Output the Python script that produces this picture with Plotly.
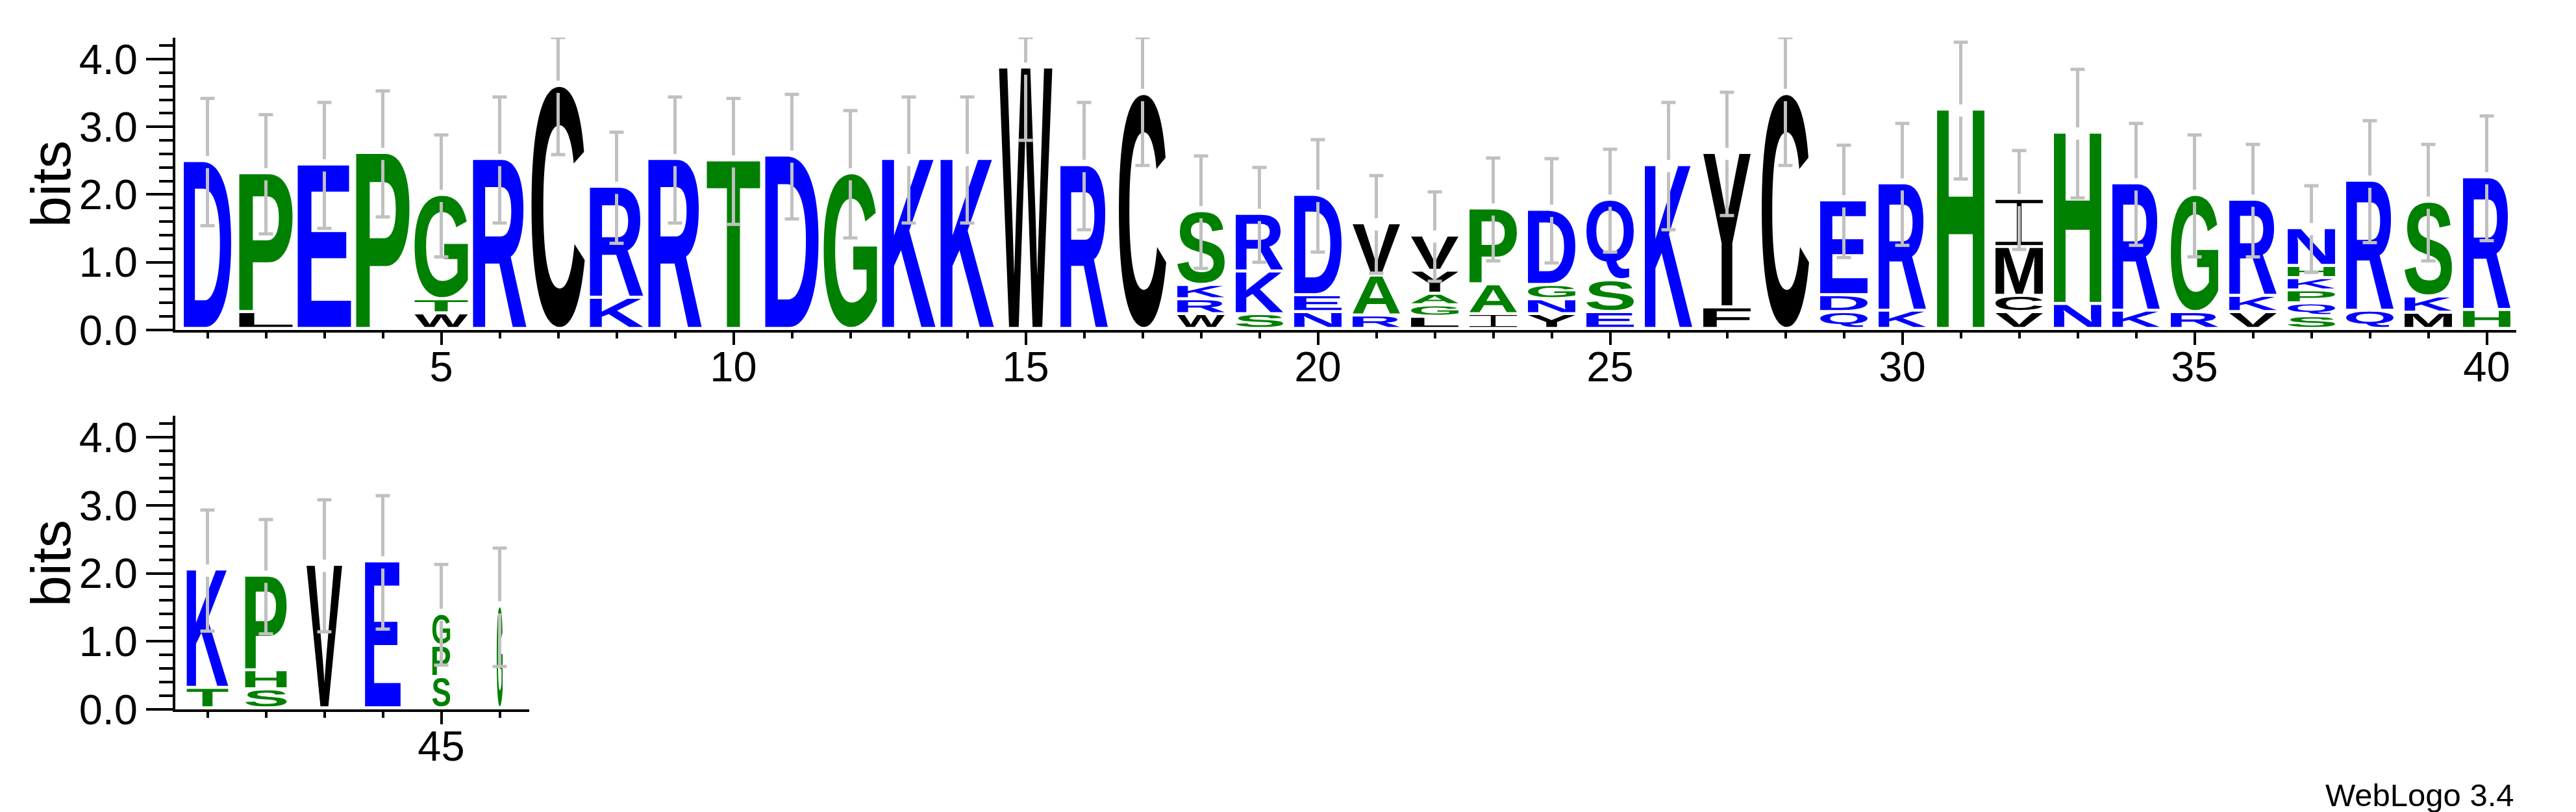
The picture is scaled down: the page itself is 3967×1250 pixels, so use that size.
import glob
import os
import struct
import plotly.graph_objects as go

positions = list(range(1, 47))
# letters of each stack, bottom -> top
stack_letters = [
    "D", "LP", "E", "P", "WTG", "R", "C", "KR", "R", "T",
    "D", "G", "K", "K", "W", "R", "C", "WRKS", "SKR", "NED",
    "RAV", "LGAYV", "IAP", "YNGD", "ESQ", "K", "FY", "C", "QDE", "KR",
    "H", "VCMI", "NH", "KR", "RG", "VKR", "SQPKHN", "QR", "MKS", "HR",
    "TK", "SHP", "V", "E", "SPG", "G",
]
# height in bits of each letter, bottom -> top
stack_heights = [
    [2.48], [0.25, 2.05], [2.43], [2.60], [0.23, 0.21, 1.54],
    [2.51], [3.59], [0.46, 1.64], [2.51], [2.49],
    [2.56], [2.30], [2.51], [2.51], [3.86],
    [2.42], [3.47], [0.22, 0.22, 0.21, 1.09], [0.22, 0.63, 0.85], [0.25, 0.25, 1.48],
    [0.20, 0.59, 0.77], [0.18, 0.17, 0.17, 0.34, 0.52], [0.22, 0.44, 1.12],
    [0.22, 0.22, 0.21, 1.11], [0.25, 0.47, 1.19],
    [2.42], [0.32, 2.28], [3.47], [0.25, 0.25, 1.40], [0.27, 1.88],
    [3.24], [0.25, 0.24, 0.72, 0.71], [0.37, 2.53], [0.27, 1.88], [0.25, 1.73],
    [0.25, 0.24, 1.42], [0.19, 0.19, 0.19, 0.18, 0.18, 0.56], [0.27, 1.92],
    [0.24, 0.24, 1.40], [0.28, 1.96],
    [0.30, 1.74], [0.28, 0.28, 1.39], [2.11], [2.16], [0.46, 0.46, 0.47], [1.50],
]
# error bar half-length (bits)
error_bits = [
    0.94, 0.88, 0.93, 0.93, 0.90, 0.93, 1.00, 0.82, 0.93, 0.93,
    0.92, 0.94, 0.93, 0.93, 1.06, 0.94, 1.04, 0.83, 0.70, 0.83,
    0.72, 0.66, 0.76, 0.77, 0.76, 0.94, 0.91, 1.04, 0.83, 0.90,
    1.01, 0.73, 0.95, 0.90, 0.90, 0.83, 0.64, 0.90, 0.86, 0.92,
    0.89, 0.84, 0.97, 0.98, 0.74, 0.87,
]
# number of aligned (non-gap) sequences per column, out of n_sequences
n_sequences = 9
sequences_present = [8] + [9] * 14 + [8] * 25 + [7, 7, 6, 6, 3, 1]

max_bits = 4.32
row_split = 40
y_ticks = [0, 1, 2, 3, 4]

# hydrophobicity colour scheme
color_groups = {"RKDENQ": "#0000ff", "SGHTAP": "#008000", "YVMCLFIW": "#000000"}
letter_color = {c: col for grp, col in color_groups.items() for c in grp}

FONT = "Liberation Sans, Arial, Helvetica, sans-serif"
STACK_W = 0.911      # full stack width in position units
GLYPH_GAP = 0.045    # bits left blank under each glyph
BAR_GAP = 0.09       # bits left open around the stack top in error bars
CAP_HALF = 0.122     # half width of error-bar caps (position units)
GREY = "#c0c0c0"


# ---------------- minimal TrueType reader for glyph outlines ----------------
class TTF:
    def __init__(self, path):
        d = open(path, "rb").read()
        self.d = d
        nt = struct.unpack(">H", d[4:6])[0]
        self.t = {}
        for i in range(nt):
            tag, _, off, ln = struct.unpack(">4sIII", d[12 + 16 * i:28 + 16 * i])
            self.t[tag.decode("latin1")] = off
        h = self.t["head"]
        self.locfmt = struct.unpack(">h", d[h + 50:h + 52])[0]
        m = self.t["maxp"]
        ng = struct.unpack(">H", d[m + 4:m + 6])[0]
        lo = self.t["loca"]
        if self.locfmt == 0:
            self.loca = [2 * v for v in struct.unpack(">%dH" % (ng + 1), d[lo:lo + 2 * (ng + 1)])]
        else:
            self.loca = list(struct.unpack(">%dI" % (ng + 1), d[lo:lo + 4 * (ng + 1)]))
        self.glyf = self.t["glyf"]
        self._cmap()

    def _cmap(self):
        d = self.d
        off = self.t["cmap"]
        n = struct.unpack(">H", d[off + 2:off + 4])[0]
        p = None
        for i in range(n):
            pid, eid, so = struct.unpack(">HHI", d[off + 4 + 8 * i:off + 12 + 8 * i])
            if struct.unpack(">H", d[off + so:off + so + 2])[0] == 4:
                p = off + so
                if pid == 3:
                    break
        segx2 = struct.unpack(">H", d[p + 6:p + 8])[0]
        seg = segx2 // 2
        self.ends = struct.unpack(">%dH" % seg, d[p + 14:p + 14 + segx2])
        self.starts = struct.unpack(">%dH" % seg, d[p + 16 + segx2:p + 16 + 2 * segx2])
        self.deltas = struct.unpack(">%dh" % seg, d[p + 16 + 2 * segx2:p + 16 + 3 * segx2])
        self.rpos = p + 16 + 3 * segx2
        self.roffs = struct.unpack(">%dH" % seg, d[self.rpos:self.rpos + segx2])

    def gid(self, ch):
        c = ord(ch)
        for i in range(len(self.ends)):
            if self.starts[i] <= c <= self.ends[i]:
                if self.roffs[i] == 0:
                    return (c + self.deltas[i]) & 0xFFFF
                a = self.rpos + 2 * i + self.roffs[i] + 2 * (c - self.starts[i])
                g = struct.unpack(">H", self.d[a:a + 2])[0]
                return (g + self.deltas[i]) & 0xFFFF if g else 0
        return 0

    def contours(self, g):
        d = self.d
        s = self.glyf + self.loca[g]
        e = self.glyf + self.loca[g + 1]
        if e <= s:
            return []
        nc = struct.unpack(">h", d[s:s + 2])[0]
        p = s + 10
        if nc >= 0:
            endpts = struct.unpack(">%dH" % nc, d[p:p + 2 * nc])
            p += 2 * nc
            il = struct.unpack(">H", d[p:p + 2])[0]
            p += 2 + il
            npts = endpts[-1] + 1 if nc else 0
            flags = []
            while len(flags) < npts:
                f = d[p]
                p += 1
                flags.append(f)
                if f & 8:
                    r = d[p]
                    p += 1
                    flags.extend([f] * r)
            flags = flags[:npts]
            xs, x = [], 0
            for f in flags:
                if f & 2:
                    v = d[p]
                    p += 1
                    x += v if f & 16 else -v
                elif not f & 16:
                    x += struct.unpack(">h", d[p:p + 2])[0]
                    p += 2
                xs.append(x)
            ys, y = [], 0
            for f in flags:
                if f & 4:
                    v = d[p]
                    p += 1
                    y += v if f & 32 else -v
                elif not f & 32:
                    y += struct.unpack(">h", d[p:p + 2])[0]
                    p += 2
                ys.append(y)
            out, st = [], 0
            for en in endpts:
                out.append([(xs[i], ys[i], bool(flags[i] & 1)) for i in range(st, en + 1)])
                st = en + 1
            return out
        out = []
        while True:
            fl, gi = struct.unpack(">HH", d[p:p + 4])
            p += 4
            if fl & 1:
                a1, a2 = struct.unpack(">hh", d[p:p + 4])
                p += 4
            else:
                a1, a2 = struct.unpack(">bb", d[p:p + 2])
                p += 2
            sx = sy = 1.0
            s01 = s10 = 0.0
            if fl & 8:
                sx = sy = struct.unpack(">h", d[p:p + 2])[0] / 16384.0
                p += 2
            elif fl & 0x40:
                sx, sy = [v / 16384.0 for v in struct.unpack(">hh", d[p:p + 4])]
                p += 4
            elif fl & 0x80:
                sx, s01, s10, sy = [v / 16384.0 for v in struct.unpack(">hhhh", d[p:p + 8])]
                p += 8
            for c in self.contours(gi):
                out.append([(sx * x + s10 * y + a1, s01 * x + sy * y + a2, on) for x, y, on in c])
            if not fl & 0x20:
                break
        return out


def find_font():
    names = ["LiberationSans-Bold.ttf", "Arial_Bold.ttf", "arialbd.ttf", "DejaVuSans-Bold.ttf"]
    roots = ["/usr/share/fonts", "/usr/local/share/fonts", os.path.expanduser("~/.fonts"),
             os.path.expanduser("~/.local/share/fonts")]
    for n in names:
        for r in roots:
            hits = glob.glob(os.path.join(r, "**", n), recursive=True)
            if hits:
                return hits[0]
    return None


font_path = find_font()
ttf = TTF(font_path) if font_path else None
_glyph_cache = {}


def glyph(letter):
    if letter in _glyph_cache:
        return _glyph_cache[letter]
    if letter == "I":
        t, s = 0.07, 0.05
        poly = [(0, 0), (1, 0), (1, t), (0.5 + s, t), (0.5 + s, 1 - t), (1, 1 - t), (1, 1),
                (0, 1), (0, 1 - t), (0.5 - s, 1 - t), (0.5 - s, t), (0, t)]
        cs = [[(x, y, True) for x, y in poly]]
    else:
        cs = ttf.contours(ttf.gid(letter))
    xs = [p[0] for c in cs for p in c]
    ys = [p[1] for c in cs for p in c]
    res = (cs, (min(xs), min(ys), max(xs), max(ys)))
    _glyph_cache[letter] = res
    return res


def glyph_path(letter, x0, x1, y0, y1):
    cs, (gx0, gy0, gx1, gy1) = glyph(letter)
    sx = (x1 - x0) / (gx1 - gx0)
    sy = (y1 - y0) / (gy1 - gy0)

    def f(p):
        return "%.4f,%.4f" % (x0 + (p[0] - gx0) * sx, y0 + (p[1] - gy0) * sy)

    parts = []
    for pts in cs:
        if not pts:
            continue
        on = [i for i, p in enumerate(pts) if p[2]]
        if on:
            k = on[0]
            seq = pts[k:] + pts[:k]
            start = seq[0]
            rest = seq[1:] + [start]
        else:
            start = ((pts[0][0] + pts[-1][0]) / 2, (pts[0][1] + pts[-1][1]) / 2, True)
            rest = pts + [start]
        cmd = ["M" + f(start)]
        ctrl = None
        for p in rest:
            if p[2]:
                if ctrl is None:
                    cmd.append("L" + f(p))
                else:
                    cmd.append("Q" + f(ctrl) + " " + f(p))
                    ctrl = None
            else:
                if ctrl is None:
                    ctrl = p
                else:
                    mid = ((ctrl[0] + p[0]) / 2, (ctrl[1] + p[1]) / 2, True)
                    cmd.append("Q" + f(ctrl) + " " + f(mid))
                    ctrl = p
        cmd.append("Z")
        parts.append("".join(cmd))
    return " ".join(parts)


# ---------------- build figure ----------------
fig = go.Figure()
shapes = []
annotations = []
bars = {"top": ([], []), "bot": ([], [])}

for pos, letters, heights, err, present in zip(positions, stack_letters, stack_heights,
                                                error_bits, sequences_present):
    row = "top" if pos <= row_split else "bot"
    xr, yr = ("x", "y") if row == "top" else ("x2", "y2")
    w = STACK_W * present / n_sequences
    base = 0.0
    for letter, h in zip(letters, heights):
        gap = min(GLYPH_GAP, 0.3 * h)
        if ttf is not None:
            shapes.append(dict(type="path", xref=xr, yref=yr, layer="below",
                               path=glyph_path(letter, pos - w / 2, pos + w / 2, base + gap, base + h),
                               fillcolor=letter_color[letter], line=dict(width=0)))
        else:
            annotations.append(dict(x=pos, y=base + h / 2, xref=xr, yref=yr, text="<b>%s</b>" % letter,
                                    showarrow=False, font=dict(size=max(8, int(h * 100)),
                                                               color=letter_color[letter])))
        base += h
    top = base
    bx, by = bars[row]
    hi = min(top + err, max_bits)
    lo = max(top - err, 0.0)
    bx += [pos, pos, None, pos, pos, None,
           pos - CAP_HALF, pos + CAP_HALF, None, pos - CAP_HALF, pos + CAP_HALF, None]
    by += [top + BAR_GAP, hi, None, top - BAR_GAP, lo, None, hi, hi, None, lo, lo, None]

for row, (xa, ya) in (("top", ("x", "y")), ("bot", ("x2", "y2"))):
    bx, by = bars[row]
    fig.add_trace(go.Scatter(x=bx, y=by, mode="lines", xaxis=xa, yaxis=ya,
                             line=dict(color=GREY, width=5), hoverinfo="skip", showlegend=False))

W, H = 3967, 1250
axis_common = dict(showline=True, linewidth=4, linecolor="black", showgrid=False, zeroline=False,
                   ticks="outside", tickcolor="black", tickwidth=4,
                   tickfont=dict(family=FONT, size=65, color="black"), fixedrange=True)

x_left = 262 / W
fig.update_layout(
    width=W, height=H, margin=dict(l=0, r=0, t=0, b=0),
    template="none", paper_bgcolor="white", plot_bgcolor="white", showlegend=False,
    xaxis=dict(domain=[x_left, 3866.5 / W], range=[0.45, row_split + 0.5], anchor="y",
               tickmode="linear", tick0=0, dtick=5, ticklen=19,
               minor=dict(dtick=1, tick0=0, ticklen=9, tickwidth=4, tickcolor="black",
                          ticks="outside", showgrid=False), **axis_common),
    yaxis=dict(domain=[0.6, 0.9603], range=[0, max_bits], anchor="x",
               tickvals=y_ticks, ticktext=["%.1f" % v for v in y_ticks], ticklen=41,
               minor=dict(dtick=0.2, tick0=0, ticklen=21, tickwidth=4, tickcolor="black",
                          ticks="outside", showgrid=False), **axis_common),
    xaxis2=dict(domain=[x_left, 806.5 / W], range=[row_split + 0.45, positions[-1] + 0.5], anchor="y2",
                tickmode="linear", tick0=0, dtick=5, ticklen=19,
                minor=dict(dtick=1, tick0=0, ticklen=9, tickwidth=4, tickcolor="black",
                           ticks="outside", showgrid=False), **axis_common),
    yaxis2=dict(domain=[0.1328, 0.4948], range=[0, max_bits], anchor="x2",
                tickvals=y_ticks, ticktext=["%.1f" % v for v in y_ticks], ticklen=41,
                minor=dict(dtick=0.2, tick0=0, ticklen=21, tickwidth=4, tickcolor="black",
                           ticks="outside", showgrid=False), **axis_common),
    shapes=shapes,
)
try:
    fig.update_xaxes(ticklabelstandoff=-22)
except Exception:
    pass

annotations += [
    dict(text="bits", x=70 / W, y=0.78, xref="paper", yref="paper", textangle=-90,
         showarrow=False, xanchor="center", yanchor="middle",
         font=dict(family=FONT, size=86, color="black")),
    dict(text="bits", x=70 / W, y=0.3128, xref="paper", yref="paper", textangle=-90,
         showarrow=False, xanchor="center", yanchor="middle",
         font=dict(family=FONT, size=86, color="black")),
    dict(text="WebLogo 3.4", x=3866 / W, y=0.0276, xref="paper", yref="paper",
         showarrow=False, xanchor="right", yanchor="middle",
         font=dict(family=FONT, size=49, color="black")),
]
fig.update_layout(annotations=annotations)

fig.write_html("out.html")
